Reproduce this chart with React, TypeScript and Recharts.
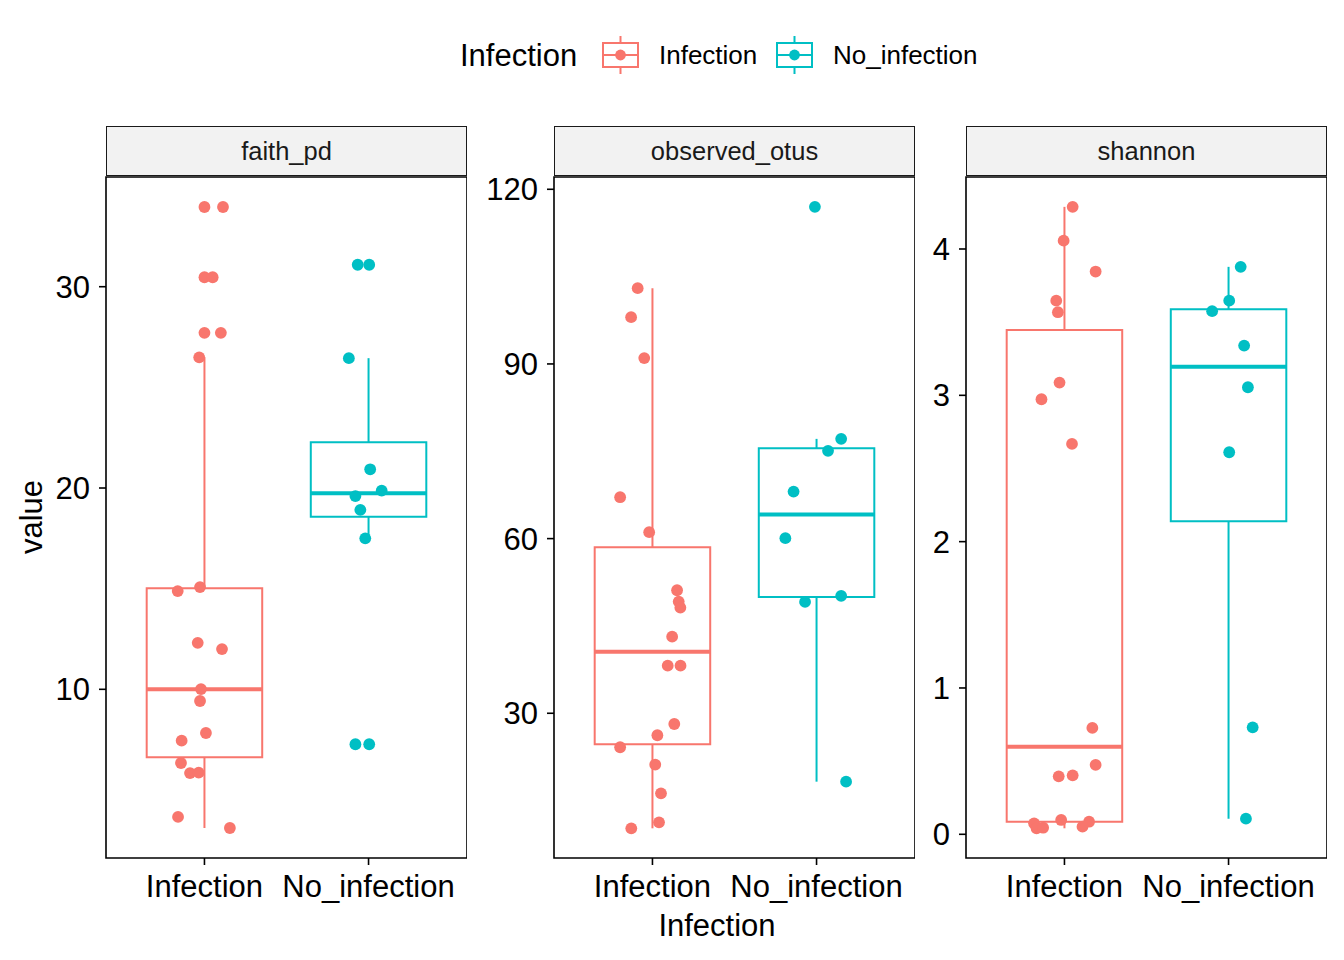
import React from 'react';
import { ComposedChart, Scatter, XAxis, YAxis, ReferenceArea, ReferenceLine } from 'recharts';

const categories = ['Infection', 'No_infection'];
const facets = ['faith_pd', 'observed_otus', 'shannon'];
const colors = ['#F8766D', '#00BFC4'];

// faith_pd
const faithInfValues = [33.96, 33.96, 30.47, 30.47, 27.71, 27.71, 26.49, 14.88, 15.08, 12.31, 12.0, 10.01, 9.42, 7.83, 7.45, 6.34, 5.84, 5.86, 3.66, 3.11];
const faithInfJitter = [0.0, 0.113, 0.0, 0.05, 0.0, 0.1, -0.032, -0.163, -0.027, -0.041, 0.107, -0.021, -0.027, 0.009, -0.139, -0.143, -0.088, -0.035, -0.161, 0.155];
const faithInfBox = [3.11, 6.62, 10.0, 15.02, 26.49];
const faithNoValues = [31.09, 31.09, 26.45, 20.93, 19.87, 19.6, 18.91, 17.5, 7.27, 7.27];
const faithNoJitter = [-0.066, 0.004, -0.12, 0.01, 0.08, -0.08, -0.05, -0.02, -0.08, 0.004];
const faithNoBox = [17.5, 18.57, 19.74, 22.27, 26.45];
const faithTicks = [10, 20, 30];
const faithDomain = [1.62, 35.45];

// observed_otus
const otusInfValues = [103.02, 98.04, 91.0, 67.11, 61.1, 51.13, 49.18, 48.14, 43.16, 38.18, 38.18, 28.16, 26.22, 24.16, 21.17, 16.25, 11.27, 10.24];
const otusInfJitter = [-0.09, -0.13, -0.05, -0.197, -0.02, 0.15, 0.16, 0.17, 0.12, 0.093, 0.171, 0.133, 0.03, -0.197, 0.017, 0.052, 0.04, -0.129];
const otusInfBox = [10.24, 24.67, 40.58, 58.52, 103.02];
const otusNoValues = [116.99, 77.13, 75.07, 68.08, 60.07, 50.15, 49.12, 18.25];
const otusNoJitter = [-0.01, 0.15, 0.07, -0.14, -0.19, 0.15, -0.07, 0.18];
const otusNoBox = [18.25, 49.98, 64.12, 75.53, 77.13];
const otusTicks = [30, 60, 90, 120];
const otusDomain = [5.14, 122.11];

// shannon
const shannonInfValues = [4.288, 4.057, 3.846, 3.647, 3.568, 3.087, 2.973, 2.668, 0.727, 0.474, 0.396, 0.403, 0.098, 0.086, 0.052, 0.075, 0.041, 0.045];
const shannonInfJitter = [0.05, -0.005, 0.19, -0.05, -0.04, -0.03, -0.14, 0.046, 0.17, 0.19, -0.035, 0.05, -0.02, 0.15, 0.11, -0.185, -0.17, -0.13];
const shannonInfBox = [0.041, 0.086, 0.599, 3.447, 4.288];
const shannonNoValues = [3.878, 3.647, 3.575, 3.34, 3.055, 2.611, 0.731, 0.107];
const shannonNoJitter = [0.074, 0.004, -0.1, 0.095, 0.118, 0.004, 0.147, 0.106];
const shannonNoBox = [0.107, 2.139, 3.196, 3.589, 3.878];
const shannonTicks = [0, 1, 2, 3, 4];
const shannonDomain = [-0.162, 4.492];

const FONT = '"Liberation Sans", Arial, Helvetica, sans-serif';
const PLOT_W = 361;
const TOP = 177;
const XAXIS_H = 102;
const CHART_H = 960;
const HW = 0.352;
const LW = 2;
const MED_LW = 4;

type Group = { values: number[]; jitter: number[]; box: number[] };

function Panel(props: {
  svgLeft: number;
  yw: number;
  title: string;
  domain: number[];
  ticks: number[];
  groups: Group[];
}) {
  const { svgLeft, yw, title, domain, ticks, groups } = props;
  const plotLeft = svgLeft + yw;
  return (
    <>
      <div
        style={{
          position: 'absolute',
          left: plotLeft,
          top: 126,
          width: PLOT_W,
          height: 50,
          boxSizing: 'border-box',
          background: '#F2F2F2',
          border: '1.6px solid #1A1A1A',
          display: 'flex',
          alignItems: 'center',
          justifyContent: 'center',
          fontFamily: FONT,
          fontSize: 25.5,
          color: '#1A1A1A',
        }}
      >
        {title}
      </div>
      <div style={{ position: 'absolute', left: svgLeft, top: 0 }}>
        <ComposedChart
          width={yw + PLOT_W}
          height={CHART_H}
          margin={{ top: TOP, right: 0, bottom: 0, left: 0 }}
        >
          <XAxis
            type="number"
            dataKey="x"
            domain={[0.4, 2.6]}
            allowDataOverflow
            ticks={[1, 2]}
            tickFormatter={(v: number) => categories[Math.round(v) - 1]}
            height={XAXIS_H}
            axisLine={false}
            tickLine={{ stroke: '#000', strokeWidth: 1.6 }}
            tickSize={7}
            tickMargin={10}
            tick={{ fill: '#000', fontSize: 31, fontFamily: FONT }}
            interval={0}
          />
          <YAxis
            type="number"
            dataKey="y"
            domain={domain}
            allowDataOverflow
            ticks={ticks}
            width={yw}
            axisLine={false}
            tickLine={{ stroke: '#000', strokeWidth: 1.6 }}
            tickSize={7}
            tickMargin={9}
            tick={{ fill: '#000', fontSize: 31, fontFamily: FONT }}
            interval={0}
          />
          <ReferenceArea
            x1={0.4}
            x2={2.6}
            y1={domain[0]}
            y2={domain[1]}
            fill="none"
            fillOpacity={0}
            stroke="#000"
            strokeWidth={1.6}
            ifOverflow="visible"
          />
          {groups.map((g, gi) => {
            const c = gi + 1;
            const col = colors[gi];
            const [lo, q1, med, q3, hi] = g.box;
            return (
              <React.Fragment key={'box' + gi}>
                <ReferenceLine
                  segment={[{ x: c, y: q3 }, { x: c, y: hi }]}
                  stroke={col}
                  strokeWidth={LW}
                  ifOverflow="visible"
                />
                <ReferenceLine
                  segment={[{ x: c, y: lo }, { x: c, y: q1 }]}
                  stroke={col}
                  strokeWidth={LW}
                  ifOverflow="visible"
                />
                <ReferenceArea
                  x1={c - HW}
                  x2={c + HW}
                  y1={q1}
                  y2={q3}
                  fill="#FFFFFF"
                  fillOpacity={1}
                  stroke={col}
                  strokeWidth={LW}
                  ifOverflow="visible"
                />
                <ReferenceLine
                  segment={[{ x: c - HW, y: med }, { x: c + HW, y: med }]}
                  stroke={col}
                  strokeWidth={MED_LW}
                  ifOverflow="visible"
                />
              </React.Fragment>
            );
          })}
          {groups.map((g, gi) => (
            <Scatter
              key={'pts' + gi}
              data={g.values.map((v, i) => ({ x: gi + 1 + g.jitter[i], y: v }))}
              isAnimationActive={false}
              fill={colors[gi]}
              shape={(p: any) => <circle cx={p.cx} cy={p.cy} r={5.9} fill={colors[gi]} />}
            />
          ))}
        </ComposedChart>
      </div>
    </>
  );
}

function LegendKey({ x, color }: { x: number; color: string }) {
  return (
    <g>
      <line x1={x + 17.5} x2={x + 17.5} y1={36} y2={74} stroke={color} strokeWidth={LW} />
      <rect x={x} y={43} width={35} height={24} fill="#fff" stroke={color} strokeWidth={LW} />
      <line x1={x} x2={x + 35} y1={55} y2={55} stroke={color} strokeWidth={LW} />
      <circle cx={x + 17.5} cy={55} r={5.4} fill={color} />
    </g>
  );
}

export default function App() {
  return (
    <div
      style={{
        position: 'absolute',
        left: 0,
        top: 0,
        width: 1344,
        height: 960,
        background: '#fff',
        fontFamily: FONT,
      }}
    >
      <svg style={{ position: 'absolute', left: 0, top: 0 }} width={1344} height={100}>
        <text x={460} y={66} fontSize={31} fontFamily={FONT} fill="#000">
          Infection
        </text>
        <LegendKey x={603} color={colors[0]} />
        <text x={659} y={64} fontSize={26} fontFamily={FONT} fill="#000">
          {categories[0]}
        </text>
        <LegendKey x={777} color={colors[1]} />
        <text x={833} y={64} fontSize={26} fontFamily={FONT} fill="#000">
          {categories[1]}
        </text>
      </svg>

      <Panel
        svgLeft={0}
        yw={106}
        title={facets[0]}
        domain={faithDomain}
        ticks={faithTicks}
        groups={[
          { values: faithInfValues, jitter: faithInfJitter, box: faithInfBox },
          { values: faithNoValues, jitter: faithNoJitter, box: faithNoBox },
        ]}
      />
      <Panel
        svgLeft={467}
        yw={87}
        title={facets[1]}
        domain={otusDomain}
        ticks={otusTicks}
        groups={[
          { values: otusInfValues, jitter: otusInfJitter, box: otusInfBox },
          { values: otusNoValues, jitter: otusNoJitter, box: otusNoBox },
        ]}
      />
      <Panel
        svgLeft={915}
        yw={51}
        title={facets[2]}
        domain={shannonDomain}
        ticks={shannonTicks}
        groups={[
          { values: shannonInfValues, jitter: shannonInfJitter, box: shannonInfBox },
          { values: shannonNoValues, jitter: shannonNoJitter, box: shannonNoBox },
        ]}
      />

      <svg style={{ position: 'absolute', left: 0, top: 0, pointerEvents: 'none' }} width={1344} height={960}>
        <text
          x={31}
          y={517}
          fontSize={31}
          fontFamily={FONT}
          fill="#000"
          textAnchor="middle"
          dominantBaseline="central"
          transform="rotate(-90 31 517)"
        >
          value
        </text>
        <text x={717} y={936} fontSize={31} fontFamily={FONT} fill="#000" textAnchor="middle">
          Infection
        </text>
      </svg>
    </div>
  );
}
